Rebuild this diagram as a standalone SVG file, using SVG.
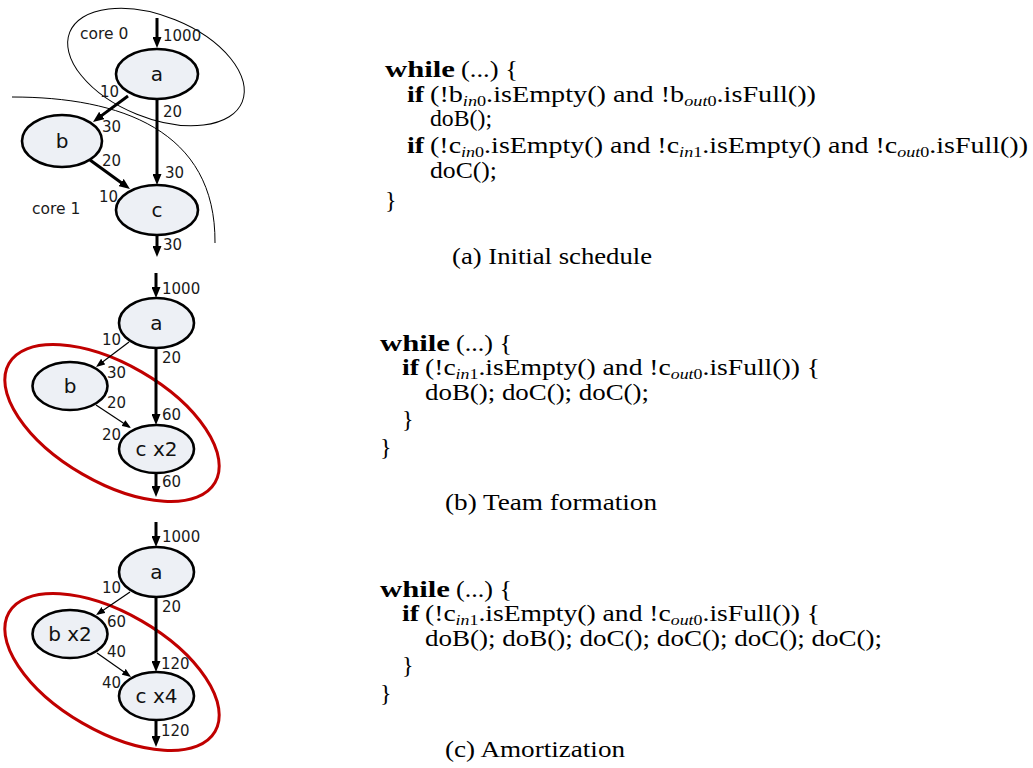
<svg xmlns="http://www.w3.org/2000/svg" width="1033" height="768" viewBox="0 0 1033 768">
  <style>
    .node { fill: #edf0f5; stroke: #000; stroke-width: 2.6; }
    .nlabel { font-family: "DejaVu Sans", Verdana, sans-serif; font-size: 20px; fill: #111; text-anchor: middle; }
    .elabel { font-family: "DejaVu Sans", Verdana, sans-serif; font-size: 15px; fill: #1a1a1a; }
    .core { font-family: "DejaVu Sans", Verdana, sans-serif; font-size: 15.5px; fill: #1a1a1a; }
    .thick { stroke: #000; stroke-width: 3; fill: none; marker-end: url(#headBig); }
    .thin { stroke: #000; stroke-width: 1.2; fill: none; marker-end: url(#headSmall); }
    .region { fill: none; stroke: #000; stroke-width: 1; }
    .team { fill: none; stroke: #c00000; stroke-width: 3; }
    .code { font-family: "Liberation Serif", "Times New Roman", serif; font-size: 24px; fill: #000; }
    .kw { font-weight: bold; }
    .sub { font-size: 15.5px; }
    .it { font-style: italic; }
  </style>
  <defs>
    <marker id="headBig" markerUnits="userSpaceOnUse" markerWidth="11" markerHeight="9" refX="5" refY="4.5" orient="auto">
      <path d="M0,0 L11,4.5 L0,9 z" fill="#000"/>
    </marker>
    <marker id="headSmall" markerUnits="userSpaceOnUse" markerWidth="9" markerHeight="7" refX="7" refY="3.5" orient="auto">
      <path d="M0,0 L9,3.5 L0,7 z" fill="#000"/>
    </marker>
  </defs>

  <!-- (a) core partition outlines -->
  <g id="core-regions">
    <ellipse class="region" cx="156" cy="67" rx="93" ry="51" transform="rotate(22 156 67)"/>
    <path class="region" d="M12,97 C120,97 216,130 215,243"/>
    <text class="core" x="80" y="39">core 0</text>
    <text class="core" x="32" y="214">core 1</text>
  </g>

  <!-- team outlines for (b) and (c) -->
  <g id="teams">
    <ellipse class="team" cx="112" cy="423" rx="119" ry="59" transform="rotate(30 112 423)"/>
    <ellipse class="team" cx="112" cy="672" rx="119" ry="59" transform="rotate(30 112 672)"/>
  </g>

  <g id="connectors">
    <!-- (a) -->
    <line class="thick" x1="157" y1="18" x2="157" y2="42"/>
    <line class="thick" x1="128" y1="96" x2="97.8" y2="118.4"/>
    <line class="thick" x1="157" y1="99" x2="157" y2="179"/>
    <line class="thick" x1="90" y1="160" x2="125.1" y2="185.5"/>
    <line class="thick" x1="157" y1="235" x2="157" y2="251"/>
    <!-- (b) -->
    <line class="thick" x1="156" y1="273" x2="156" y2="292"/>
    <line class="thin" x1="129" y1="342" x2="97.6" y2="365.8"/>
    <line class="thick" x1="156" y1="348" x2="156" y2="419"/>
    <line class="thin" x1="96" y1="405" x2="129.3" y2="426.9"/>
    <line class="thick" x1="156" y1="473" x2="156" y2="491"/>
    <!-- (c) -->
    <line class="thick" x1="156" y1="522" x2="156" y2="541"/>
    <line class="thin" x1="130" y1="592" x2="97.7" y2="613.9"/>
    <line class="thick" x1="156" y1="597" x2="156" y2="666"/>
    <line class="thin" x1="97" y1="653" x2="129.4" y2="675.8"/>
    <line class="thick" x1="156" y1="720" x2="156" y2="741"/>
  </g>

  <g id="rate-labels">
    <!-- (a) -->
    <text class="elabel" x="163" y="41">1000</text>
    <text class="elabel" x="100" y="97">10</text>
    <text class="elabel" x="102" y="132">30</text>
    <text class="elabel" x="163" y="117">20</text>
    <text class="elabel" x="102" y="166">20</text>
    <text class="elabel" x="165" y="178">30</text>
    <text class="elabel" x="99" y="202">10</text>
    <text class="elabel" x="163" y="250">30</text>
    <!-- (b) -->
    <text class="elabel" x="162" y="294">1000</text>
    <text class="elabel" x="102" y="345">10</text>
    <text class="elabel" x="107" y="378">30</text>
    <text class="elabel" x="162" y="363">20</text>
    <text class="elabel" x="107" y="408">20</text>
    <text class="elabel" x="162" y="420">60</text>
    <text class="elabel" x="102" y="440">20</text>
    <text class="elabel" x="162" y="487">60</text>
    <!-- (c) -->
    <text class="elabel" x="162" y="542">1000</text>
    <text class="elabel" x="102" y="593">10</text>
    <text class="elabel" x="107" y="627">60</text>
    <text class="elabel" x="162" y="612">20</text>
    <text class="elabel" x="107" y="657">40</text>
    <text class="elabel" x="161" y="669">120</text>
    <text class="elabel" x="102" y="688">40</text>
    <text class="elabel" x="161" y="736">120</text>
  </g>

  <!-- (a) nodes -->
  <g id="a1"><ellipse class="node" cx="157" cy="74" rx="41" ry="25"/><text class="nlabel" x="157" y="81">a</text></g>
  <g id="b1"><ellipse class="node" cx="62" cy="141" rx="40" ry="26"/><text class="nlabel" x="62" y="148">b</text></g>
  <g id="c1"><ellipse class="node" cx="157" cy="210" rx="41" ry="25"/><text class="nlabel" x="157" y="217">c</text></g>
  <!-- (b) nodes -->
  <g id="a2"><ellipse class="node" cx="156.5" cy="323" rx="37.5" ry="25"/><text class="nlabel" x="156.5" y="330">a</text></g>
  <g id="b2"><ellipse class="node" cx="70" cy="386" rx="37.5" ry="24"/><text class="nlabel" x="70" y="393">b</text></g>
  <g id="c2"><ellipse class="node" cx="156.5" cy="449" rx="37.5" ry="24"/><text class="nlabel" x="156.5" y="456">c x2</text></g>
  <!-- (c) nodes -->
  <g id="a3"><ellipse class="node" cx="156.5" cy="572" rx="37.5" ry="25"/><text class="nlabel" x="156.5" y="579">a</text></g>
  <g id="b3"><ellipse class="node" cx="70" cy="634" rx="37.5" ry="24"/><text class="nlabel" x="70" y="641">b x2</text></g>
  <g id="c3"><ellipse class="node" cx="156.5" cy="696" rx="37.5" ry="24"/><text class="nlabel" x="156.5" y="703">c x4</text></g>

  <!-- (a) initial schedule code -->
  <g id="code-a" class="code">
    <text class="kw" x="385" y="77" textLength="70" lengthAdjust="spacingAndGlyphs">while</text>
    <text x="461" y="77" textLength="57" lengthAdjust="spacingAndGlyphs">(...) {</text>
    <text class="kw" x="407" y="102" textLength="17" lengthAdjust="spacingAndGlyphs">if</text>
    <text x="430" y="102" textLength="386" lengthAdjust="spacingAndGlyphs">(!b<tspan class="sub" dy="3.5"><tspan class="it">in</tspan>0</tspan><tspan dy="-3.5">.isEmpty() and !b</tspan><tspan class="sub" dy="3.5"><tspan class="it">out</tspan>0</tspan><tspan dy="-3.5">.isFull())</tspan></text>
    <text x="430" y="126" textLength="62" lengthAdjust="spacingAndGlyphs">doB();</text>
    <text class="kw" x="407" y="153" textLength="17" lengthAdjust="spacingAndGlyphs">if</text>
    <text x="430" y="153" textLength="598" lengthAdjust="spacingAndGlyphs">(!c<tspan class="sub" dy="3.5"><tspan class="it">in</tspan>0</tspan><tspan dy="-3.5">.isEmpty() and !c</tspan><tspan class="sub" dy="3.5"><tspan class="it">in</tspan>1</tspan><tspan dy="-3.5">.isEmpty() and !c</tspan><tspan class="sub" dy="3.5"><tspan class="it">out</tspan>0</tspan><tspan dy="-3.5">.isFull())</tspan></text>
    <text x="430" y="178" textLength="67" lengthAdjust="spacingAndGlyphs">doC();</text>
    <text x="385" y="208">}</text>
    <text x="452" y="264" textLength="200" lengthAdjust="spacingAndGlyphs">(a) Initial schedule</text>
  </g>

  <!-- (b) team formation code -->
  <g id="code-b" class="code">
    <text class="kw" x="380" y="351" textLength="70" lengthAdjust="spacingAndGlyphs">while</text>
    <text x="456" y="351" textLength="56" lengthAdjust="spacingAndGlyphs">(...) {</text>
    <text class="kw" x="402" y="375" textLength="17" lengthAdjust="spacingAndGlyphs">if</text>
    <text x="425" y="375" textLength="395" lengthAdjust="spacingAndGlyphs">(!c<tspan class="sub" dy="3.5"><tspan class="it">in</tspan>1</tspan><tspan dy="-3.5">.isEmpty() and !c</tspan><tspan class="sub" dy="3.5"><tspan class="it">out</tspan>0</tspan><tspan dy="-3.5">.isFull()) {</tspan></text>
    <text x="425" y="400" textLength="224" lengthAdjust="spacingAndGlyphs">doB(); doC(); doC();</text>
    <text x="402" y="427">}</text>
    <text x="380" y="455">}</text>
    <text x="445" y="510" textLength="212" lengthAdjust="spacingAndGlyphs">(b) Team formation</text>
  </g>

  <!-- (c) amortization code -->
  <g id="code-c" class="code">
    <text class="kw" x="380" y="597" textLength="70" lengthAdjust="spacingAndGlyphs">while</text>
    <text x="456" y="597" textLength="56" lengthAdjust="spacingAndGlyphs">(...) {</text>
    <text class="kw" x="402" y="621" textLength="17" lengthAdjust="spacingAndGlyphs">if</text>
    <text x="425" y="621" textLength="395" lengthAdjust="spacingAndGlyphs">(!c<tspan class="sub" dy="3.5"><tspan class="it">in</tspan>1</tspan><tspan dy="-3.5">.isEmpty() and !c</tspan><tspan class="sub" dy="3.5"><tspan class="it">out</tspan>0</tspan><tspan dy="-3.5">.isFull()) {</tspan></text>
    <text x="425" y="646" textLength="457" lengthAdjust="spacingAndGlyphs">doB(); doB(); doC(); doC(); doC(); doC();</text>
    <text x="402" y="673">}</text>
    <text x="380" y="701">}</text>
    <text x="445" y="757" textLength="180" lengthAdjust="spacingAndGlyphs">(c) Amortization</text>
  </g>
</svg>
